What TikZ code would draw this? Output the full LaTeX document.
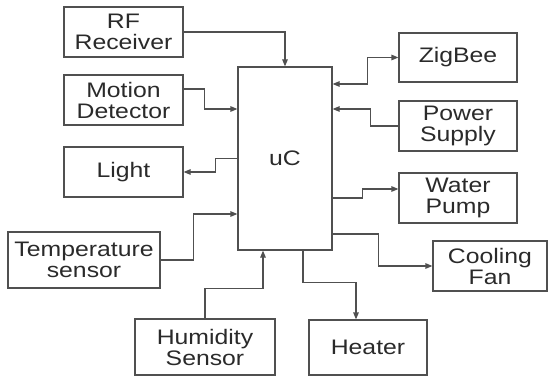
\documentclass[tikz,border=0pt]{standalone}
\usepackage{fontspec}
\setmainfont[FakeStretch=1.18]{Liberation Sans}
\usetikzlibrary{arrows.meta}
\definecolor{ln}{HTML}{505050}
\definecolor{tx}{HTML}{2a2a2a}
\begin{document}
\begin{tikzpicture}[x=1pt,y=-1pt,
  blk/.style={draw=ln,line width=1.2pt,inner sep=0pt,align=center,text=tx,
    font=\fontsize{21}{21}\selectfont},
  arr/.style={draw=ln,line width=1.2pt,-{Triangle[length=7pt,width=5.5pt]}},
  darr/.style={draw=ln,line width=1.2pt,{Triangle[length=7pt,width=5.5pt]}-{Triangle[length=7pt,width=5.5pt]}}]
\useasboundingbox (0,0) rectangle (548,377);
\node[blk,minimum width=119pt,minimum height=50pt] (rf) at (123.5,32) {RF\\Receiver};
\node[blk,minimum width=119pt,minimum height=50pt] (mot) at (123.5,100) {Motion\\Detector};
\node[blk,minimum width=119pt,minimum height=50pt] (light) at (123.5,172) {Light};
\node[blk,minimum width=94pt,minimum height=183pt] (uc) at (285,158.5) {uC};
\node[blk,minimum width=118pt,minimum height=49pt] (zig) at (458,57.5) {ZigBee};
\node[blk,minimum width=118pt,minimum height=50pt] (pow) at (458,126) {Power\\Supply};
\node[blk,minimum width=118pt,minimum height=50pt] (wat) at (458,198) {Water\\Pump};
\node[blk,minimum width=114pt,minimum height=50pt] (fan) at (490,266) {Cooling\\Fan};
\node[blk,minimum width=118pt,minimum height=55pt] (heat) at (368,347.5) {Heater};
\node[blk,minimum width=152pt,minimum height=56pt] (temp) at (84,260) {Temperature\\sensor};
\node[blk,minimum width=140pt,minimum height=56pt] (hum) at (205,347) {Humidity\\Sensor};

\draw[arr] (rf.east) -| (uc.north);
\draw[arr] ([yshift=11pt]mot.east) -- ++(21,0) |- ([yshift=49.5pt]uc.west);
\draw[arr] (uc.west) -- ++(-22,0) |- (light.east);
\draw[arr] (temp.east) -- ++(33,0) |- ([yshift=-55.5pt]uc.west);
\draw[arr] (hum.north) -- ++(0,-30) -| ([xshift=-22pt]uc.south);
\draw[arr] ([xshift=18pt]uc.south) -- ++(0,32) -| ([xshift=-12pt]heat.north);
\draw[arr] ([yshift=-75.5pt]uc.east) -- ++(46,0) |- (fan.west);
\draw[arr] ([yshift=-39.5pt]uc.east) -- ++(30,0) |- ([yshift=9pt]wat.west);
\draw[arr] (pow.west) -- ++(-28,0) |- ([yshift=49.5pt]uc.east);
\draw[darr] ([yshift=74.5pt]uc.east) -- ++(35,0) |- (zig.west);
\end{tikzpicture}
\end{document}
